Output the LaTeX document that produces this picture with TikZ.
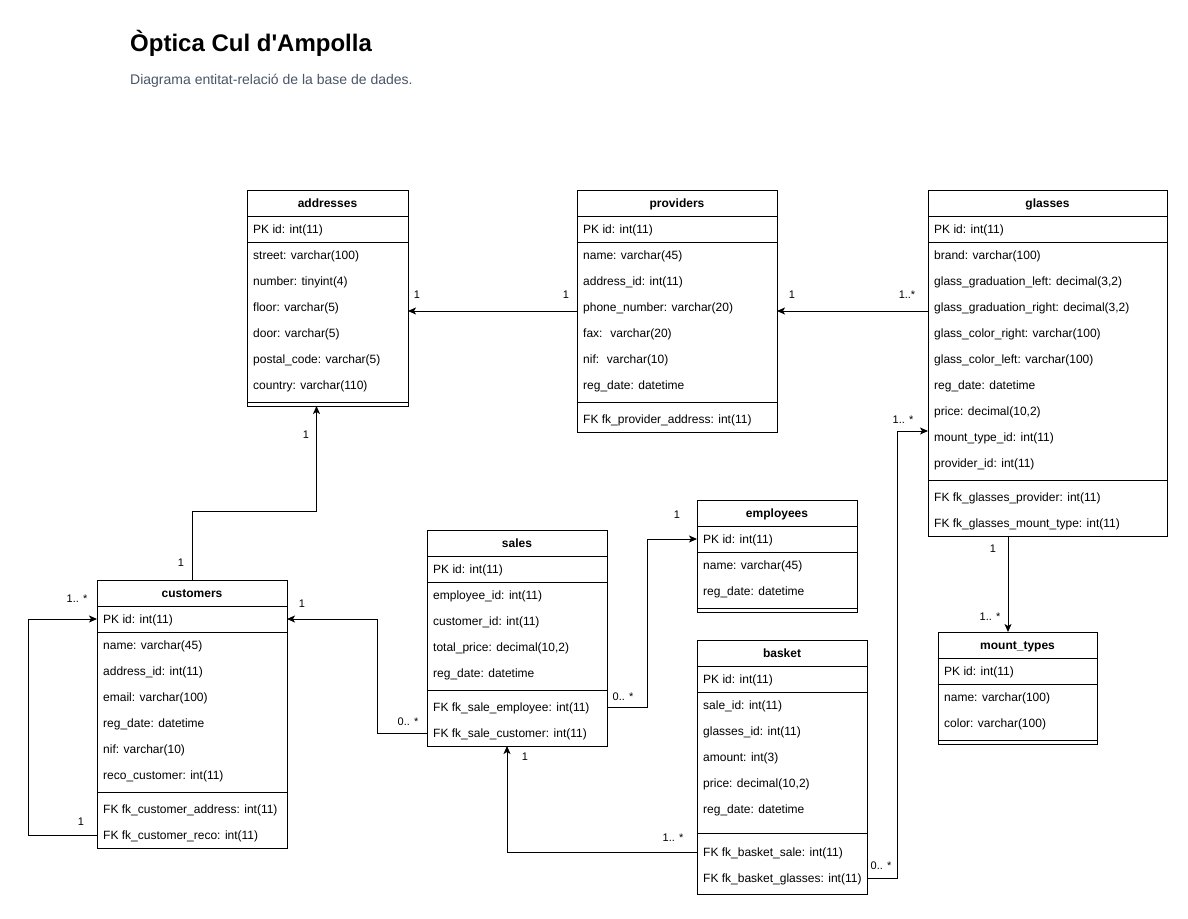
\documentclass[tikz,border=0pt]{standalone}
\usepackage{fontspec}
\setmainfont{Liberation Sans}
\newfontfamily\drawiofont{Liberation Sans}
\usetikzlibrary{arrows.meta}

\definecolor{subtitlegray}{RGB}{74,85,104}

\tikzset{
  tbl/.style = {draw, line width=1pt, anchor=north west, inner sep=0pt, outer sep=0pt},
  head/.style = {font=\fontsize{12}{14}\selectfont\bfseries, inner sep=0pt,
    text height=8.6pt, text depth=0pt},
  field/.style = {anchor=west, font=\fontsize{12}{14}\selectfont, inner sep=0pt,
    text height=8.6pt, text depth=0pt},
  rel/.style = {line width=1pt, -{Stealth[length=8pt, width=7pt, inset=2pt]}},
  mult/.style = {font=\fontsize{11}{13}\selectfont, inner sep=0pt}
}

\begin{document}
\begin{tikzpicture}[x=1pt, y=-1pt]

      \fill[white] (0,0) rectangle (1188,918);
      \useasboundingbox (0,0) rectangle (1188,918);

      % title
      \node[anchor=base west, inner sep=0pt, font=\drawiofont\fontsize{24}{28}\selectfont\bfseries]
        (title) at (130,51) {Òptica Cul d'Ampolla};
      \node[anchor=base west, inner sep=0pt, text=subtitlegray, font=\fontsize{14}{17}\selectfont]
        (subtitle) at (130,84) {Diagrama entitat-relació de la base de dades.};

      % addresses
      \node[tbl, minimum width=161pt, minimum height=216pt] (addresses) at (247,190) {};
      \node[head] (addresses-title) at ([yshift=-13pt]addresses.north) {addresses};
      \draw ([yshift=-26pt]addresses.north west) -- ++(161,0);
      \draw ([yshift=-52pt]addresses.north west) -- ++(161,0);
      \draw ([yshift=4pt]addresses.south west) -- ++(161,0);
      \foreach \f [count=\i from 0] in {{PK id: int(11)}, {street: varchar(100)},
          {number: tinyint(4)}, {floor: varchar(5)}, {door: varchar(5)},
          {postal\_code: varchar(5)}, {country: varchar(110)}}
        \node[field] (addresses-\i) at (253, 229+26*\i) {\f};

      % providers
      \node[tbl, minimum width=200pt, minimum height=242pt] (providers) at (577,190) {};
      \node[head] (providers-title) at ([yshift=-13pt]providers.north) {providers};
      \draw ([yshift=-26pt]providers.north west) -- ++(200,0);
      \draw ([yshift=-52pt]providers.north west) -- ++(200,0);
      \draw ([yshift=30pt]providers.south west) -- ++(200,0);
      \foreach \f [count=\i from 0] in {{PK id: int(11)}, {name: varchar(45)},
          {address\_id: int(11)}, {phone\_number: varchar(20)}, {fax: \ varchar(20)},
          {nif: \ varchar(10)}, {reg\_date: datetime}}
        \node[field] (providers-\i) at (583, 229+26*\i) {\f};
      \node[field] (providers-fk1) at (583,419) {FK fk\_provider\_address: int(11)};

      % glasses
      \node[tbl, minimum width=239pt, minimum height=346pt] (glasses) at (928,190) {};
      \node[head] (glasses-title) at ([yshift=-13pt]glasses.north) {glasses};
      \draw ([yshift=-26pt]glasses.north west) -- ++(239,0);
      \draw ([yshift=-52pt]glasses.north west) -- ++(239,0);
      \draw ([yshift=56pt]glasses.south west) -- ++(239,0);
      \foreach \f [count=\i from 0] in {{PK id: int(11)}, {brand: varchar(100)},
          {glass\_graduation\_left: decimal(3,2)}, {glass\_graduation\_right: decimal(3,2)},
          {glass\_color\_right: varchar(100)}, {glass\_color\_left: varchar(100)},
          {reg\_date: datetime}, {price: decimal(10,2)}, {mount\_type\_id: int(11)},
          {provider\_id: int(11)}}
        \node[field] (glasses-\i) at (934, 229+26*\i) {\f};
      \node[field] (glasses-fk1) at (934,497) {FK fk\_glasses\_provider: int(11)};
      \node[field] (glasses-fk2) at (934,523) {FK fk\_glasses\_mount\_type: int(11)};

      % customers
      \node[tbl, minimum width=190pt, minimum height=268pt] (customers) at (97,580) {};
      \node[head] (customers-title) at ([yshift=-13pt]customers.north) {customers};
      \draw ([yshift=-26pt]customers.north west) -- ++(190,0);
      \draw ([yshift=-52pt]customers.north west) -- ++(190,0);
      \draw ([yshift=56pt]customers.south west) -- ++(190,0);
      \foreach \f [count=\i from 0] in {{PK id: int(11)}, {name: varchar(45)},
          {address\_id: int(11)}, {email: varchar(100)}, {reg\_date: datetime},
          {nif: varchar(10)}, {reco\_customer: int(11)}}
        \node[field] (customers-\i) at (103, 619+26*\i) {\f};
      \node[field] (customers-fk1) at (103,809) {FK fk\_customer\_address: int(11)};
      \node[field] (customers-fk2) at (103,835) {FK fk\_customer\_reco: int(11)};

      % sales
      \node[tbl, minimum width=180pt, minimum height=216pt] (sales) at (427,530) {};
      \node[head] (sales-title) at ([yshift=-13pt]sales.north) {sales};
      \draw ([yshift=-26pt]sales.north west) -- ++(180,0);
      \draw ([yshift=-52pt]sales.north west) -- ++(180,0);
      \draw ([yshift=56pt]sales.south west) -- ++(180,0);
      \foreach \f [count=\i from 0] in {{PK id: int(11)}, {employee\_id: int(11)},
          {customer\_id: int(11)}, {total\_price: decimal(10,2)}, {reg\_date: datetime}}
        \node[field] (sales-\i) at (433, 569+26*\i) {\f};
      \node[field] (sales-fk1) at (433,707) {FK fk\_sale\_employee: int(11)};
      \node[field] (sales-fk2) at (433,733) {FK fk\_sale\_customer: int(11)};

      % employees
      \node[tbl, minimum width=160pt, minimum height=112pt] (employees) at (697,500) {};
      \node[head] (employees-title) at ([yshift=-13pt]employees.north) {employees};
      \draw ([yshift=-26pt]employees.north west) -- ++(160,0);
      \draw ([yshift=-52pt]employees.north west) -- ++(160,0);
      \draw ([yshift=4pt]employees.south west) -- ++(160,0);
      \foreach \f [count=\i from 0] in {{PK id: int(11)}, {name: varchar(45)},
          {reg\_date: datetime}}
        \node[field] (employees-\i) at (703, 539+26*\i) {\f};

      % basket
      \node[tbl, minimum width=170pt, minimum height=254pt] (basket) at (697,640) {};
      \node[head] (basket-title) at ([yshift=-13pt]basket.north) {basket};
      \draw ([yshift=-26pt]basket.north west) -- ++(170,0);
      \draw ([yshift=-52pt]basket.north west) -- ++(170,0);
      \draw ([yshift=61pt]basket.south west) -- ++(170,0);
      \foreach \f [count=\i from 0] in {{PK id: int(11)}, {sale\_id: int(11)},
          {glasses\_id: int(11)}, {amount: int(3)}, {price: decimal(10,2)},
          {reg\_date: datetime}}
        \node[field] (basket-\i) at (703, 679+26*\i) {\f};
      \node[field] (basket-fk1) at (703,852) {FK fk\_basket\_sale: int(11)};
      \node[field] (basket-fk2) at (703,878) {FK fk\_basket\_glasses: int(11)};

      % mount_types
      \node[tbl, minimum width=159pt, minimum height=112pt] (mount_types) at (938,632) {};
      \node[head] (mount_types-title) at ([yshift=-13pt]mount_types.north) {mount\_types};
      \draw ([yshift=-26pt]mount_types.north west) -- ++(159,0);
      \draw ([yshift=-52pt]mount_types.north west) -- ++(159,0);
      \draw ([yshift=4pt]mount_types.south west) -- ++(159,0);
      \foreach \f [count=\i from 0] in {{PK id: int(11)}, {name: varchar(100)},
          {color: varchar(100)}}
        \node[field] (mount_types-\i) at (944, 671+26*\i) {\f};

      % relations
      \draw[rel] (providers.west) -- (addresses.east |- providers.west);
      \draw[rel] (glasses.west |- providers.east) -- (providers.east);
      \draw[rel] (customers.north) -- ++(0,-69) -| ([xshift=-11pt]addresses.south);
      \draw[rel] (customers.west |- customers-fk2) -- ++(-69,0) |- (customers.west |- customers-0);
      \draw[rel] (sales.west |- sales-fk2) -- ++(-50,0) |- (customers.east |- customers-0);
      \draw[rel] (sales.east |- sales-fk1) -- ++(40,0) |- (employees.west |- employees-0);
      \draw[rel] (basket.west |- basket-fk1) -| ([xshift=-10pt]sales.south);
      \draw[rel] (basket.east |- basket-fk2) -- ++(30,0) |- ([yshift=-68pt]glasses.west);
      \draw[rel] ([xshift=-39.5pt]glasses.south) -- ([xshift=-39.5pt]glasses.south |- mount_types.north);

      % multiplicities
      \node[mult] (m-addr-prov) at (417,295) {1};
      \node[mult] (m-prov-addr) at (566,295) {1};
      \node[mult] (m-prov-glass) at (792,295) {1};
      \node[mult] (m-glass-prov) at (907,295) {1..*};
      \node[mult] (m-cust-addr) at (181,563) {1};
      \node[mult] (m-addr-cust) at (306,435) {1};
      \node[mult] (m-reco-in) at (77,599) {1.. *};
      \node[mult] (m-reco-out) at (81,822) {1};
      \node[mult] (m-cust-sale) at (302,604) {1};
      \node[mult] (m-sale-cust) at (408,722) {0.. *};
      \node[mult] (m-sale-emp) at (623,697) {0.. *};
      \node[mult] (m-emp-sale) at (677,515) {1};
      \node[mult] (m-sale-bask) at (525,757) {1};
      \node[mult] (m-bask-sale) at (673,838) {1.. *};
      \node[mult] (m-glass-bask) at (903,420) {1.. *};
      \node[mult] (m-bask-glass) at (881,866) {0.. *};
      \node[mult] (m-glass-mount) at (993,549) {1};
      \node[mult] (m-mount-glass) at (990,617) {1.. *};

    \end{tikzpicture}
\end{document}
